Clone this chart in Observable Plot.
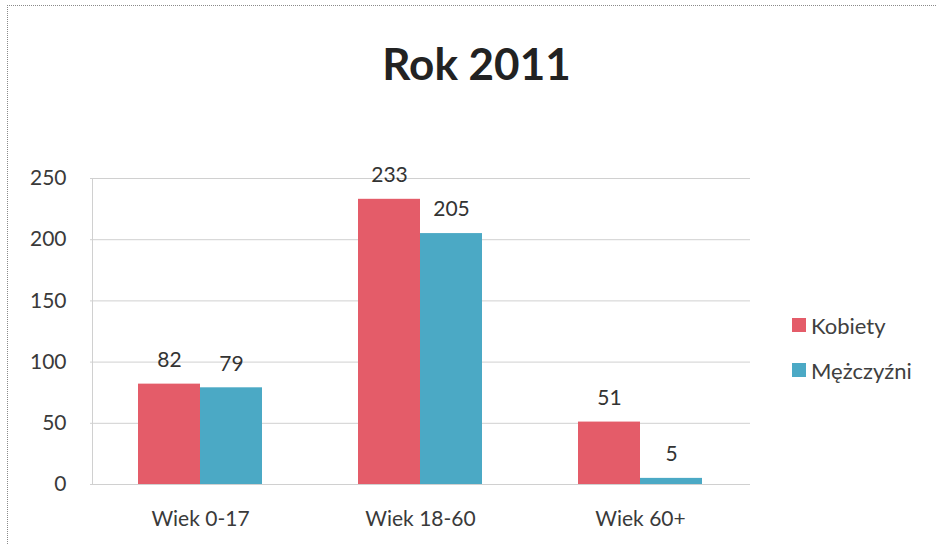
<!DOCTYPE html>
<html><head><meta charset="utf-8">
<script src="https://cdn.jsdelivr.net/npm/d3@7"></script>
<script src="https://cdn.jsdelivr.net/npm/@observablehq/plot@0.6"></script>
<style>
body{margin:0;background:#fff;font-family:Lato,"Open Sans",sans-serif;}
#wrap{position:relative;width:937px;height:545px;overflow:hidden;background:#fff;}
#frame{position:absolute;left:7px;top:5px;right:-5px;bottom:-5px;border-top:1px dotted #8a8a8a;border-left:1px dotted #8a8a8a;}
#title{position:absolute;left:8px;top:38px;width:937px;text-align:center;font-family:Lato,sans-serif;font-weight:bold;font-size:44px;line-height:50px;color:#222;}
#chart{position:absolute;left:0;top:110px;}
#legend{position:absolute;left:792px;top:311px;font-family:Lato,sans-serif;font-size:22px;color:#404040;}
.item{display:flex;align-items:center;height:28px;margin-bottom:17px;}
.sw{width:14px;height:14px;margin-right:5px;}
</style></head>
<body><div id="wrap"><div id="frame"></div><div id="title">Rok 2011</div><div id="chart"></div><div id="legend"></div></div>
<script>
const groups = ["Wiek 0-17", "Wiek 18-60", "Wiek 60+"];
const series = ["Kobiety", "Mężczyźni"];
const kobiety = [82, 233, 51];
const mezczyzni = [79, 205, 5];
const yTicks = [0, 50, 100, 150, 200, 250];
const colors = ["#e45c69", "#4ba9c5"];

const data = groups.flatMap((g, i) => [
  {group: g, sex: series[0], value: kobiety[i]},
  {group: g, sex: series[1], value: mezczyzni[i]}
]);

const chart = Plot.plot({
  width: 937, height: 435,
  marginTop: 68, marginBottom: 61, marginLeft: 90, marginRight: 187,
  style: {fontFamily: "Lato, sans-serif", fontSize: "21px", color: "#3a3a3a", background: "transparent"},
  fx: {domain: groups, paddingInner: 0.436, paddingOuter: 0.218, label: null, axis: "bottom", tickSize: 0, tickPadding: 27},
  x: {domain: series, padding: 0, axis: null},
  y: {domain: [0, 250], ticks: yTicks, label: null, axis: "left", tickSize: 0, tickPadding: 72},
  color: {domain: series, range: colors},
  marks: [
    Plot.ruleY(yTicks, {stroke: "#d0d0d0", insetLeft: -48, insetRight: -48}),
    Plot.frame({anchor: "left", facetAnchor: "left", insetLeft: -46, stroke: "#d0d0d0"}),
    Plot.barY(data, {fx: "group", x: "sex", y: "value", fill: "sex"}),
    Plot.text(data, {fx: "group", x: "sex", y: "value", text: "value", dy: -24, fontSize: 21, fill: "#333"})
  ]
});
document.getElementById("chart").appendChild(chart);

const legend = document.getElementById("legend");
series.forEach((s, i) => {
  const it = document.createElement("div");
  it.className = "item";
  const sw = document.createElement("div");
  sw.className = "sw";
  sw.style.background = colors[i];
  const t = document.createElement("span");
  t.textContent = s;
  it.appendChild(sw); it.appendChild(t);
  legend.appendChild(it);
});
</script>
</body></html>
